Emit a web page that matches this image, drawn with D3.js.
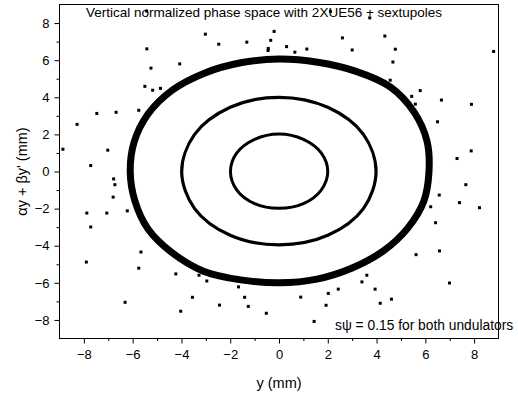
<!DOCTYPE html>
<html>
<head>
<meta charset="utf-8">
<script src="https://cdn.jsdelivr.net/npm/d3@7"></script>
<style>
  html, body { margin: 0; padding: 0; background: #fff; }
  svg { display: block; }
  text { font-family: "Liberation Sans", Arial, sans-serif; fill: #000; }
</style>
</head>
<body>
<svg id="chart" width="518" height="395"></svg>
<script>
// ---------- data ----------
const title = "Vertical normalized phase space with 2XUE56 + sextupoles";
const note = "s\u03C8 = 0.15 for both undulators";
const xLabel = "y (mm)";
const yLabel = "\u03B1y + \u03B2y' (mm)";
const xTicks = [-8, -6, -4, -2, 0, 2, 4, 6, 8];
const yTicks = [-8, -6, -4, -2, 0, 2, 4, 6, 8];
const minorTicks = [-7, -5, -3, -1, 1, 3, 5, 7];

// closed ring traces [y, αy+βy']
const innerRing = [[2,0],[1.73,1],[1,1.73],[0,2.02],[-1,1.73],[-1.73,1],[-1.99,0],[-1.73,-1],[-1,-1.73],[0,-1.98],[1,-1.73],[1.73,-1]];
const middleRing = [[3.98,0],[3.46,2],[2,3.46],[0,4.0],[-2,3.46],[-3.46,2],[-3.99,0],[-3.46,-2],[-2,-3.44],[0,-3.95],[2,-3.44],[3.46,-2]];
const outerRing = [[6.15,0],[6.07,1.63],[5.54,3.2],[4.56,4.56],[3.13,5.41],[1.58,5.89],[0,6.06],[-1.57,5.86],[-3.06,5.3],[-4.38,4.38],[-5.37,3.1],[-5.94,1.59],[-6.1,0],[-5.91,-1.58],[-5.37,-3.1],[-4.38,-4.38],[-3.1,-5.37],[-1.57,-5.84],[0,-6.0],[1.55,-5.8],[3.0,-5.2],[4.28,-4.28],[5.28,-3.05],[5.94,-1.59]];

// scattered particles outside the rings
const strayY  = [-5.43,2.11,3.72,-5.42,-5.25,-5.50,-5.18,-4.86,-7.47,-6.68,-5.75,-8.28,-8.86,-7.02,-7.72,-3.02,-2.47,-1.32,-0.20,-0.34,-0.44,-4.07,-0.45,0.31,0.65,1.14,2.60,4.34,3.00,4.77,4.67,8.80,4.56,5.79,5.44,5.59,6.66,7.89,6.50,7.88,7.30,6.57,7.66,8.22,7.40,6.42,6.22,6.58,5.62,6.99,4.61,4.15,3.94,3.40,3.60,2.43,2.02,1.93,1.44,0.89,-0.52,-1.26,-1.41,-1.66,-2.44,-2.96,-3.28,-3.55,-4.03,-4.23,-5.66,-5.75,-7.90,-6.31,-6.22,-7.06,-7.88,-7.72,-6.80,-6.73,-6.78];
const strayYp = [8.65,8.63,8.28,6.61,5.57,4.59,4.38,4.48,3.13,3.19,3.30,2.54,1.20,1.15,0.32,7.40,6.86,6.97,7.55,7.07,6.63,5.80,6.52,6.73,6.43,6.60,7.20,7.30,6.55,6.59,5.90,6.47,4.92,4.36,4.05,3.63,3.85,3.62,2.68,1.11,0.70,-1.27,-0.71,-1.95,-1.68,-2.76,-1.90,-4.28,-4.48,-6.01,-6.88,-7.10,-6.34,-5.95,-5.59,-6.34,-6.57,-7.21,-8.08,-6.77,-7.64,-7.27,-6.78,-6.22,-7.20,-5.90,-5.59,-6.78,-7.53,-5.52,-4.34,-5.21,-4.88,-7.05,-2.12,-2.24,-2.24,-2.99,-1.38,-0.71,-0.40];

// ---------- layout ----------
const svg = d3.select("#chart");
const L = 59.5, R = 498.5, T = 4.5, B = 338.5;
const x = d3.scaleLinear().domain([-9, 9]).range([L, R]);
const y = d3.scaleLinear().domain([-9, 9]).range([B, T]);

// frame
svg.append("rect").attr("x", L).attr("y", T).attr("width", R - L).attr("height", B - T)
  .attr("fill", "none").attr("stroke", "#000").attr("stroke-width", 1);

// rings
const line = d3.line().x(d => x(d[0])).y(d => y(d[1])).curve(d3.curveCatmullRomClosed);
svg.append("path").datum(outerRing).attr("d", line)
  .attr("fill", "none").attr("stroke", "#000").attr("stroke-width", 7);
svg.append("path").datum(middleRing).attr("d", line)
  .attr("fill", "none").attr("stroke", "#000").attr("stroke-width", 3.2);
svg.append("path").datum(innerRing).attr("d", line)
  .attr("fill", "none").attr("stroke", "#000").attr("stroke-width", 3);

// stray particles
const stray = strayY.map((v, i) => [v, strayYp[i]]);
svg.append("g").selectAll("rect").data(stray).join("rect")
  .attr("x", d => x(d[0]) - 1.5).attr("y", d => y(d[1]) - 1.5)
  .attr("width", 3).attr("height", 3).attr("fill", "#000");

// axes
const fontSize = "13px";
svg.append("g").attr("transform", `translate(0,${B})`)
  .call(d3.axisBottom(x).tickValues(xTicks).tickSize(5).tickPadding(6).tickFormat(d3.format("d")));
svg.append("g").attr("transform", `translate(0,${B})`)
  .call(d3.axisBottom(x).tickValues(minorTicks).tickSize(2.5).tickFormat(""));
svg.append("g").attr("transform", `translate(${L},0)`)
  .call(d3.axisLeft(y).tickValues(yTicks).tickSize(5).tickPadding(5).tickFormat(d3.format("d")));
svg.append("g").attr("transform", `translate(${L},0)`)
  .call(d3.axisLeft(y).tickValues(minorTicks).tickSize(3).tickFormat(""));
svg.selectAll(".domain").remove();
svg.selectAll(".tick line").attr("stroke", "#000");
svg.selectAll(".tick text").attr("font-size", fontSize)
  .attr("font-family", "'Liberation Sans', Arial, sans-serif").attr("fill", "#000");

// texts
svg.append("text").attr("x", 86).attr("y", 16.5).attr("font-size", "13.5px").text(title);
svg.append("text").attr("x", 335).attr("y", 329.5).attr("font-size", "13.8px").text(note);
svg.append("text").attr("x", (L + R) / 2).attr("y", 388).attr("text-anchor", "middle")
  .attr("font-size", "14.5px").text(xLabel);
svg.append("text").attr("transform", `translate(27,${(T + B) / 2}) rotate(-90)`)
  .attr("text-anchor", "middle").attr("font-size", "14.5px").text(yLabel);
</script>
</body>
</html>
